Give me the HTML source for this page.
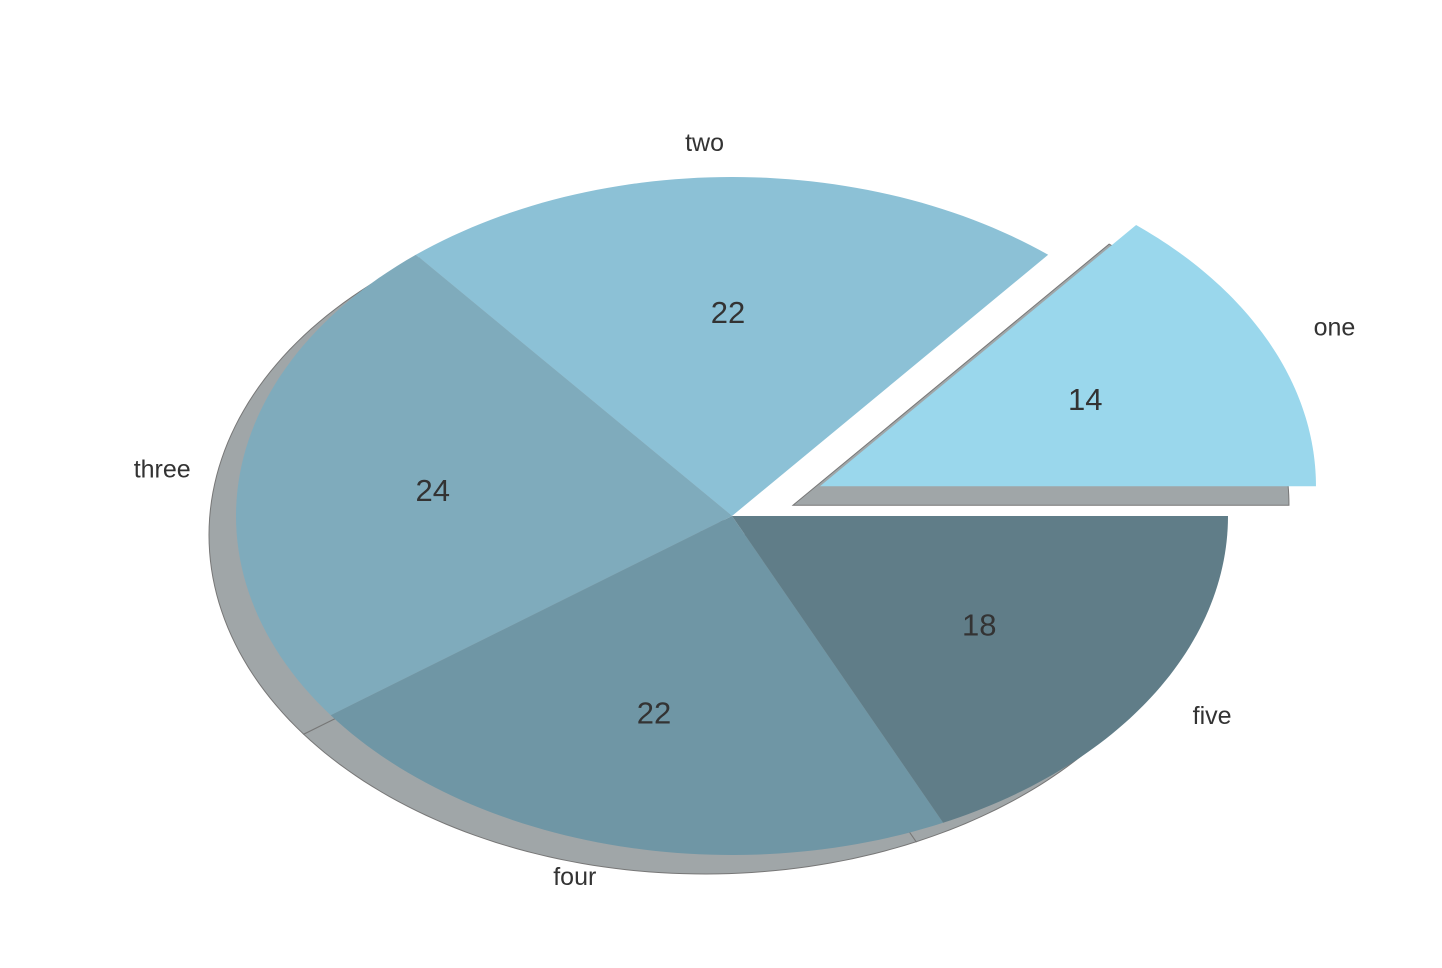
<!DOCTYPE html>
<html><head><meta charset="utf-8"><style>body{margin:0;background:#fff}svg{display:block}text{font-family:"Liberation Sans",Arial,sans-serif;fill:#333}</style></head>
<body>
<svg id="chart" width="1442" height="968" xmlns="http://www.w3.org/2000/svg">
<g id="shadows"></g>
<g id="wedges"></g>
<g id="labels"></g>
</svg>
<script>
const categories = ["one","two","three","four","five"];
const values = [14,22,24,22,18];
const explode = [0.2,0,0,0,0];
const colors = ["#9ad7ec","#8cc1d6","#7fabbc","#6f96a5","#607d88"];
const cx=732, cy=516, rx=496, ry=339, sdx=-27, sdy=19;
const NS="http://www.w3.org/2000/svg";
const total=values.reduce((a,b)=>a+b,0);
const px=(a,r,ox)=>ox+r*rx*Math.cos(a);
const py=(a,r,oy)=>oy-r*ry*Math.sin(a);
function wedgePath(ox,oy,a0,a1){
  let d=`M${ox},${oy} L${px(a0,1,ox)},${py(a0,1,oy)}`;
  const n=60;
  for(let i=1;i<=n;i++){const a=a0+(a1-a0)*i/n;d+=` L${px(a,1,ox)},${py(a,1,oy)}`;}
  return d+"Z";
}
const sg=document.getElementById('shadows'),wg=document.getElementById('wedges'),lg=document.getElementById('labels');
let start=0;
values.forEach((v,i)=>{
  const a0=start/total*2*Math.PI, a1=(start+v)/total*2*Math.PI, am=(a0+a1)/2;
  start+=v;
  const ox=cx+explode[i]*rx*Math.cos(am)*0.98, oy=cy-explode[i]*ry*Math.sin(am)*1.03;
  const s=document.createElementNS(NS,'path');
  s.setAttribute('d',wedgePath(ox+sdx,oy+sdy,a0,a1));
  s.setAttribute('fill','#a0a6a8');s.setAttribute('stroke','#777');s.setAttribute('stroke-width','1');
  
  
  sg.appendChild(s);
  const w=document.createElementNS(NS,'path');
  w.setAttribute('d',wedgePath(ox,oy,a0,a1));
  w.setAttribute('fill',colors[i]);
  
  
  wg.appendChild(w);
  const lx=px(am,1.1,ox), ly=py(am,1.1,oy);
  const t=document.createElementNS(NS,'text');
  t.setAttribute('x',Math.abs(Math.cos(am))<0.01?lx-8:lx);t.setAttribute('y',ly);
  t.setAttribute('font-size','25');t.setAttribute('dominant-baseline','central');
  t.setAttribute('text-anchor',Math.cos(am)>0.01?'start':'end');
  t.textContent=categories[i];
  
  
  lg.appendChild(t);
  const p=document.createElementNS(NS,'text');
  p.setAttribute('x',px(am,0.6,ox)-4);p.setAttribute('y',py(am,0.6,oy));
  p.setAttribute('font-size','31');p.setAttribute('dominant-baseline','central');p.setAttribute('text-anchor','middle');
  p.textContent=Math.round(v/total*100);
  
  
  lg.appendChild(p);
});
</script>
</body></html>
